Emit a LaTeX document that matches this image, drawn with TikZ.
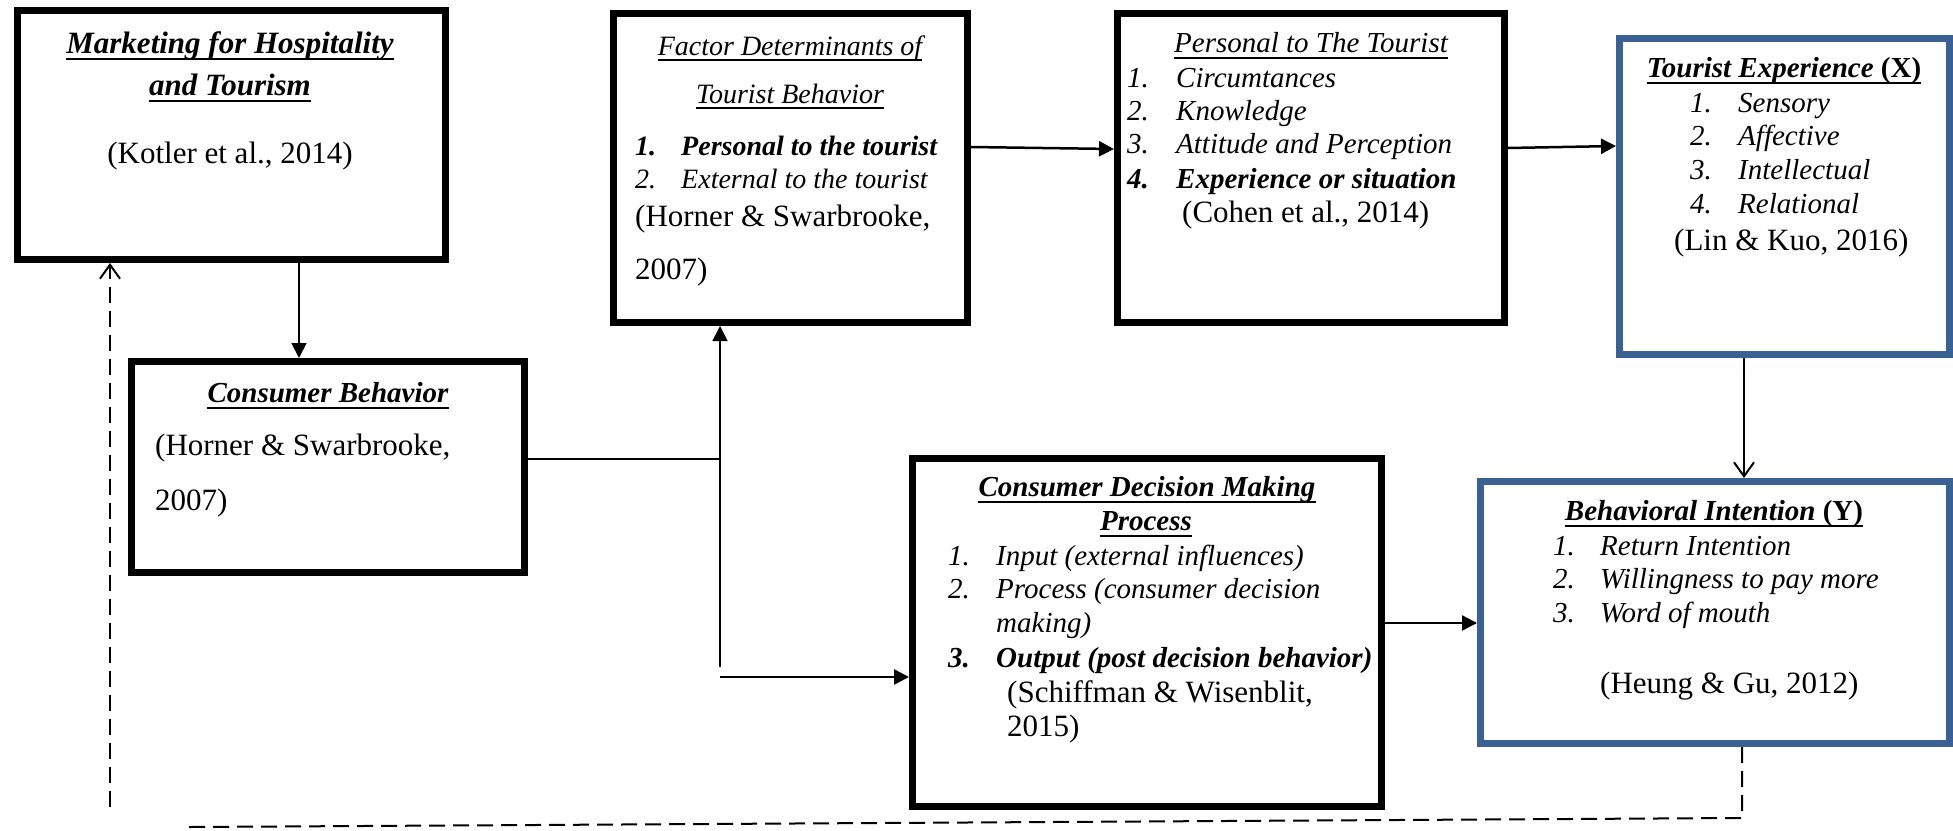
\documentclass[tikz,border=0pt]{standalone}
\usepackage{fontspec}
\setmainfont{Liberation Serif}
\usetikzlibrary{arrows.meta}
\definecolor{boxblue}{RGB}{58,97,148}
\newcommand\myCite{\fontsize{31}{36}\selectfont}
\newcommand\myItem{\fontsize{29}{34}\selectfont\itshape}
\newcommand\myItemC{\fontsize{28}{33}\selectfont\itshape}
\newcommand\myHead{\fontsize{29}{34}\selectfont\bfseries\itshape}
\newcommand\myHeadL{\fontsize{31}{36}\selectfont\bfseries\itshape}
\begin{document}
\begin{tikzpicture}[x=1pt,y=-1pt,
  box/.style={draw=black, line width=7pt, inner sep=0pt, fill=white},
  bluebox/.style={box, draw=boxblue},
  txt/.style={inner sep=0pt, anchor=base west},
  ctxt/.style={inner sep=0pt, anchor=base},
  citetxt/.style={font=\myCite},
  itm/.style={font=\myItem},
  itmc/.style={font=\myItemC},
  bitm/.style={font=\myHead},
  underl/.style={line width=1.8pt},
  arr/.style={line width=2.5pt, -{Triangle[length=15pt,width=15pt]}},
  thinarr/.style={line width=1.8pt, -{Triangle[length=15pt,width=15pt]}},
  openhead/.style={-{Straight Barb[length=14pt,width=20pt,line width=2pt]}},
  link/.style={line width=2pt},
  dashline/.style={line width=2pt, dash pattern=on 16pt off 8pt}]
\useasboundingbox (0,0) rectangle (1953,830);

% boxes
\node[box, minimum width=428pt, minimum height=249pt] (A) at (231.5,135) {};
\node[box, minimum width=393pt, minimum height=211pt] (B) at (328,467) {};
\node[box, minimum width=354pt, minimum height=309pt] (C) at (790.5,168) {};
\node[box, minimum width=387pt, minimum height=309pt] (D) at (1311,168) {};
\node[bluebox, minimum width=330pt, minimum height=316pt] (E) at (1784.5,196.5) {};
\node[box, minimum width=469pt, minimum height=348pt] (F) at (1147,632.5) {};
\node[bluebox, minimum width=469pt, minimum height=262pt] (G) at (1715,612.5) {};

% helper coordinates
\coordinate (J1) at (720,459);
\coordinate (J2) at (720,667);
\coordinate (J3) at (720,677);
\coordinate (X1) at (299,0);
\coordinate (X2) at (1744,0);
\coordinate (Y1) at (0,147);
\coordinate (Y2) at (0,149);
\coordinate (Y3) at (0,148);
\coordinate (Y4) at (0,146);
\coordinate (Y5) at (0,623);
\coordinate (D1) at (1742,818);
\coordinate (D2) at (189,827);
\coordinate (D3) at (110,807);

% connectors
\draw[thinarr] (A.south -| X1) -- (B.north -| X1);
\draw[link] (B.east |- J1) -- (J1);
\draw[thinarr] (J2) -- (C.south -| J2);
\draw[arr] (J3) -- (F.west |- J3);
\draw[arr] (C.east |- Y1) -- (D.west |- Y2);
\draw[arr] (D.east |- Y3) -- (E.west |- Y4);
\draw[link, openhead] (E.south -| X2) -- (G.north -| X2);
\draw[arr] (F.east |- Y5) -- (G.west |- Y5);
\draw[dashline] (G.south -| D1) -- (D1) -- (D2);
\draw[dashline, openhead] (D3) -- (A.south -| D3);

% A text
\node[ctxt, font=\myHeadL] (a1) at (230,53) {Marketing for Hospitality};
\node[ctxt, font=\myHeadL] (a2) at (230,95) {and Tourism};
\node[ctxt, citetxt] (a3) at (230,163) {(Kotler et al., 2014)};
\draw[underl] ([yshift=-6pt]a1.base west) -- ([yshift=-6pt]a1.base east);
\draw[underl] ([yshift=-6pt]a2.base west) -- ([yshift=-6pt]a2.base east);

% B text
\node[ctxt, bitm] (b1) at (328,402) {Consumer Behavior};
\draw[underl] ([yshift=-6pt]b1.base west) -- ([yshift=-6pt]b1.base east);
\node[txt, citetxt] (b2) at (155,455) {(Horner \& Swarbrooke,};
\node[txt, citetxt] (b3) at (155,510) {2007)};

% C text
\node[ctxt, itmc] (c1) at (790,55) {Factor Determinants of};
\node[ctxt, itmc] (c2) at (790,103) {Tourist Behavior};
\draw[underl] ([yshift=-5pt]c1.base west) -- ([yshift=-5pt]c1.base east);
\draw[underl] ([yshift=-5pt]c2.base west) -- ([yshift=-5pt]c2.base east);
\node[txt, font=\fontsize{28}{33}\selectfont\bfseries\itshape] (c3) at (635,155) {1.};
\node[txt, font=\fontsize{28}{33}\selectfont\bfseries\itshape] (c4) at (681,155) {Personal to the tourist};
\node[txt, itmc] (c5) at (635,188) {2.};
\node[txt, itmc] (c6) at (681,188) {External to the tourist};
\node[txt, citetxt] (c7) at (635,226) {(Horner \& Swarbrooke,};
\node[txt, citetxt] (c8) at (635,279) {2007)};

% D text
\node[ctxt, itm] (d1) at (1311,52) {Personal to The Tourist};
\draw[underl] ([yshift=-6pt]d1.base west) -- ([yshift=-6pt]d1.base east);
\node[txt, itm] (d2) at (1127,87) {1.};
\node[txt, itm] (d3) at (1176,87) {Circumtances};
\node[txt, itm] (d4) at (1127,120) {2.};
\node[txt, itm] (d5) at (1176,120) {Knowledge};
\node[txt, itm] (d6) at (1127,153) {3.};
\node[txt, itm] (d7) at (1176,153) {Attitude and Perception};
\node[txt, bitm] (d8) at (1127,188) {4.};
\node[txt, bitm] (d9) at (1176,188) {Experience or situation};
\node[txt, citetxt] (d10) at (1182,222) {(Cohen et al., 2014)};

% E text
\node[ctxt, font=\fontsize{29}{34}\selectfont\bfseries] (e1) at (1784,77) {\textit{Tourist Experience} (X)};
\draw[underl] ([yshift=-6pt]e1.base west) -- ([yshift=-6pt]e1.base east);
\node[txt, itm] (e2) at (1690,112) {1.};
\node[txt, itm] (e3) at (1738,112) {Sensory};
\node[txt, itm] (e4) at (1690,145) {2.};
\node[txt, itm] (e5) at (1738,145) {Affective};
\node[txt, itm] (e6) at (1690,179) {3.};
\node[txt, itm] (e7) at (1738,179) {Intellectual};
\node[txt, itm] (e8) at (1690,213) {4.};
\node[txt, itm] (e9) at (1738,213) {Relational};
\node[txt, citetxt] (e10) at (1674,250) {(Lin \& Kuo, 2016)};

% F text
\node[ctxt, bitm] (f1) at (1147,496) {Consumer Decision Making};
\node[ctxt, bitm] (f2) at (1146,530) {Process};
\draw[underl] ([yshift=-6pt]f1.base west) -- ([yshift=-6pt]f1.base east);
\draw[underl] ([yshift=-6pt]f2.base west) -- ([yshift=-6pt]f2.base east);
\node[txt, itm] (f3) at (948,565) {1.};
\node[txt, itm] (f4) at (996,565) {Input (external influences)};
\node[txt, itm] (f5) at (948,598) {2.};
\node[txt, itm] (f6) at (996,598) {Process (consumer decision};
\node[txt, itm] (f7) at (996,632) {making)};
\node[txt, bitm] (f8) at (948,667) {3.};
\node[txt, bitm] (f9) at (996,667) {Output (post decision behavior)};
\node[txt, citetxt] (f10) at (1007,702) {(Schiffman \& Wisenblit,};
\node[txt, citetxt] (f11) at (1007,736) {2015)};

% G text
\node[ctxt, font=\fontsize{29}{34}\selectfont\bfseries] (g1) at (1714,520) {\textit{Behavioral Intention} (Y)};
\draw[underl] ([yshift=-6pt]g1.base west) -- ([yshift=-6pt]g1.base east);
\node[txt, itm] (g2) at (1553,555) {1.};
\node[txt, itm] (g3) at (1600,555) {Return Intention};
\node[txt, itm] (g4) at (1553,588) {2.};
\node[txt, itm] (g5) at (1600,588) {Willingness to pay more};
\node[txt, itm] (g6) at (1553,622) {3.};
\node[txt, itm] (g7) at (1600,622) {Word of mouth};
\node[txt, citetxt] (g8) at (1600,693) {(Heung \& Gu, 2012)};
\end{tikzpicture}
\end{document}
